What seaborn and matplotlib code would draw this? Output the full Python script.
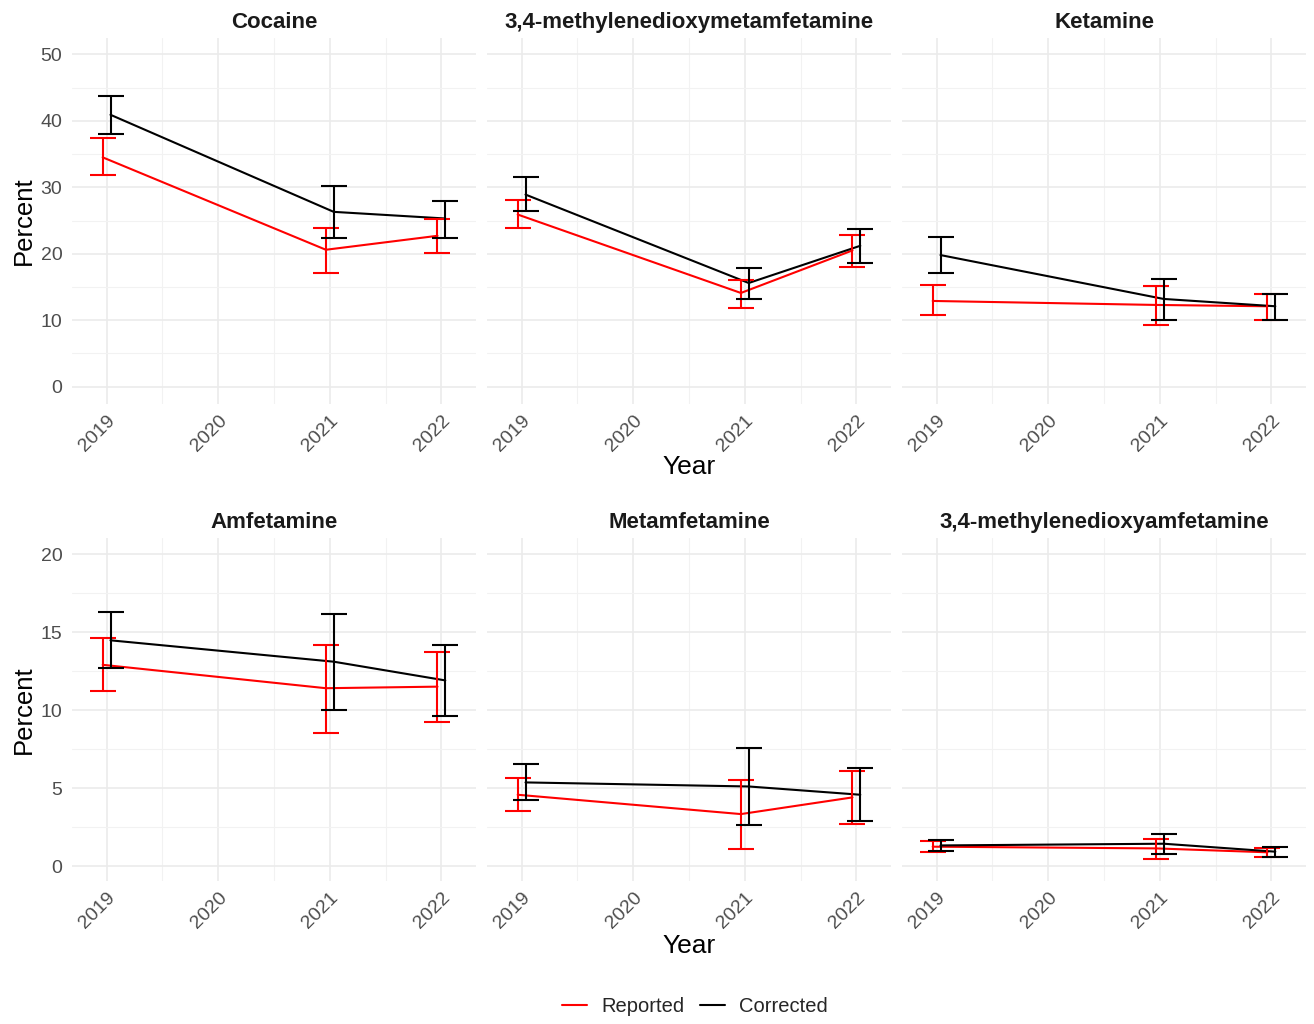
import numpy as np
import pandas as pd
import matplotlib
matplotlib.use('Agg')
import matplotlib.pyplot as plt
from matplotlib.lines import Line2D
import seaborn as sns

# Data
years = [2019, 2021, 2022]
drugs = ['Cocaine', '3,4-methylenedioxymetamfetamine', 'Ketamine',
         'Amfetamine', 'Metamfetamine', '3,4-methylenedioxyamfetamine']

reported_pct = [[34.5, 20.6, 22.7], [25.9, 14.1, 20.5], [12.9, 12.3, 12.1],
                [12.9, 11.4, 11.5], [4.57, 3.33, 4.4], [1.24, 1.13, 0.88]]
reported_lo = [[31.8, 17.1, 20.1], [23.8, 11.8, 18.0], [10.8, 9.3, 10.0],
               [11.2, 8.55, 9.25], [3.53, 1.09, 2.71], [0.92, 0.47, 0.6]]
reported_hi = [[37.4, 23.9, 25.3], [28.1, 16.0, 22.8], [15.3, 15.1, 13.9],
               [14.6, 14.2, 13.7], [5.66, 5.49, 6.09], [1.6, 1.75, 1.18]]

corrected_pct = [[40.9, 26.3, 25.3], [28.9, 15.6, 21.2], [19.8, 13.2, 12.1],
                 [14.47, 13.1, 11.9], [5.36, 5.1, 4.57], [1.32, 1.43, 0.92]]
corrected_lo = [[38.0, 22.4, 22.4], [26.4, 13.2, 18.6], [17.1, 10.1, 10.0],
                [12.7, 10.0, 9.6], [4.21, 2.6, 2.88], [0.98, 0.77, 0.58]]
corrected_hi = [[43.7, 30.2, 27.9], [31.5, 17.9, 23.7], [22.5, 16.2, 13.9],
                [16.3, 16.15, 14.2], [6.54, 7.56, 6.26], [1.67, 2.07, 1.22]]

types = ['Reported', 'Corrected']
colors = {'Reported': '#FF0000', 'Corrected': '#000000'}
dodge = {'Reported': -0.035, 'Corrected': 0.035}

# long table
rows = []
for i, drug in enumerate(drugs):
    for j, yr in enumerate(years):
        rows.append({'drug': drug, 'year': yr, 'type': 'Reported',
                     'pct': reported_pct[i][j], 'lo': reported_lo[i][j], 'hi': reported_hi[i][j]})
        rows.append({'drug': drug, 'year': yr, 'type': 'Corrected',
                     'pct': corrected_pct[i][j], 'lo': corrected_lo[i][j], 'hi': corrected_hi[i][j]})
df = pd.DataFrame(rows)
df['x'] = df['year'] + df['type'].map(dodge)

sns.set_theme(style='white')
plt.rcParams['font.family'] = ['Liberation Sans', 'DejaVu Sans']

fig = plt.figure(figsize=(13.14, 10.24), dpi=100)
W, H = 1314, 1024

col_left = [72, 487, 902]
col_w = 404
row_box = [(38, 404), (538, 881)]
row_ylim = [(-2.6, 52.45), (-0.96, 21.03)]
row_major = [np.arange(0, 51, 10), np.arange(0, 21, 5)]
row_minor = [np.arange(5, 50, 10), np.arange(2.5, 20, 5)]

for k, drug in enumerate(drugs):
    r, c = divmod(k, 3)
    top, bot = row_box[r]
    ax = fig.add_axes([col_left[c] / W, 1 - bot / H, col_w / W, (bot - top) / H])
    sub = df[df['drug'] == drug]

    # grid first
    ax.set_xlim(2018.69, 2022.31)
    ax.set_ylim(*row_ylim[r])
    ax.set_xticks([2019, 2020, 2021, 2022])
    ax.set_xticks([2019.5, 2020.5, 2021.5], minor=True)
    ax.set_yticks(row_major[r])
    ax.set_yticks(row_minor[r], minor=True)
    ax.grid(which='major', color='#EBEBEB', lw=1.2)
    ax.grid(which='minor', color='#F2F2F2', lw=0.8)
    ax.set_axisbelow(True)
    for s in ax.spines.values():
        s.set_visible(False)

    sns.lineplot(data=sub, x='x', y='pct', hue='type', hue_order=types,
                 palette=colors, ax=ax, legend=False, linewidth=1.5, errorbar=None)
    for t in types:
        s = sub[sub['type'] == t]
        ax.errorbar(s['x'], s['pct'], yerr=[s['pct'] - s['lo'], s['hi'] - s['pct']],
                    fmt='none', ecolor=colors[t], elinewidth=1.5, capsize=9.5, capthick=1.5)

    ax.set_xlabel('')
    ax.set_ylabel('')
    ax.set_title(drug, fontsize=16, fontweight='bold', color='#1A1A1A', pad=7)
    ax.tick_params(which='both', length=0)
    ax.tick_params(axis='y', labelsize=14, labelcolor='#4D4D4D', pad=7)
    ax.tick_params(axis='x', labelsize=14, labelcolor='#4D4D4D', pad=6)
    if c > 0:
        ax.set_yticklabels([])
    for lab in ax.get_xticklabels():
        lab.set_rotation(45)
        lab.set_ha('right')
        lab.set_va('top')
        lab.set_rotation_mode('anchor')

# shared labels per row
for r, (top, bot) in enumerate(row_box):
    fig.text(24 / W, 1 - (top + bot) / 2 / H, 'Percent', rotation=90,
             ha='center', va='center', fontsize=18.5, color='black')
year_y = [467, 946]
for yy in year_y:
    fig.text(689 / W, 1 - yy / H, 'Year', ha='center', va='center', fontsize=19, color='black')

handles = [Line2D([], [], color=colors[t], lw=1.5) for t in types]
fig.legend(handles, types, loc='center', bbox_to_anchor=(695 / W, 1 - 1007 / H), ncol=2,
           frameon=False, fontsize=14.5, handlelength=1.25, columnspacing=0.75, handletextpad=0.7)

fig.savefig('out.png', dpi=100)
